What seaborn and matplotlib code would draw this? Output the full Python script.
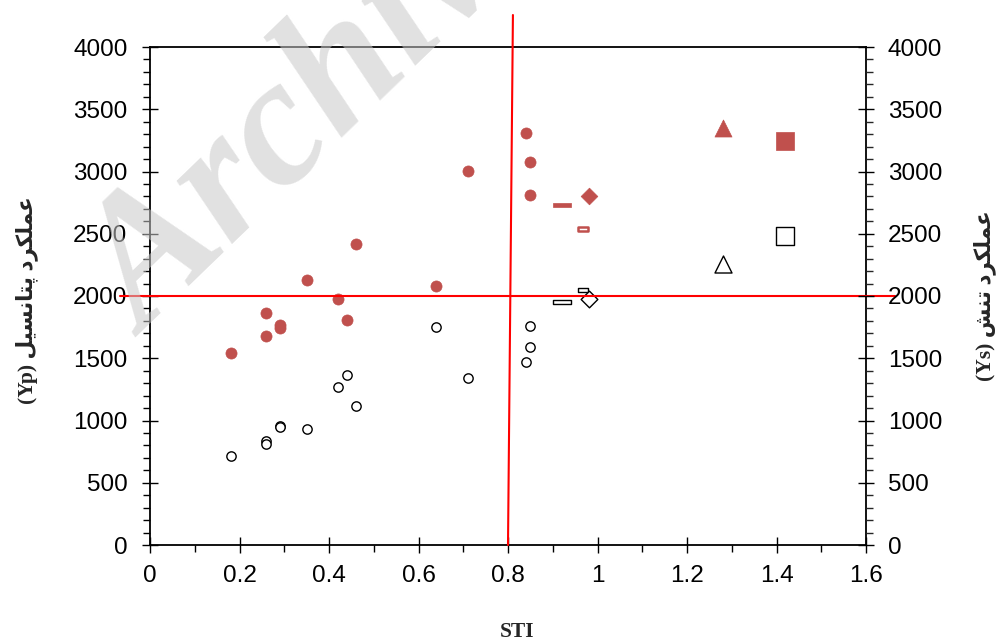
import numpy as np
import pandas as pd
import seaborn as sns
import matplotlib.pyplot as plt
from matplotlib.path import Path
from matplotlib.ticker import MultipleLocator, FuncFormatter

# genotypes
sti = [0.18, 0.26, 0.26, 0.29, 0.29, 0.35, 0.42, 0.44, 0.46, 0.64, 0.71, 0.84, 0.85, 0.85]
yp = [1540, 1861, 1679, 1767, 1743, 2128, 1973, 1807, 2418, 2080, 3007, 3312, 3074, 2811]
ys = [715, 838, 811, 955, 948, 929, 1269, 1363, 1119, 1754, 1339, 1467, 1762, 1588]

# check cultivars (own markers)
check_sti = [0.92, 0.968, 0.98, 1.28, 1.42]
check_yp = [2734, 2538, 2806, 3346, 3248]
check_ys = [1949, 2048, 1973, 2257, 2482]

sti_cut = 0.8
y_cut = 2000

xlabel = "STI"
# Persian labels (presentation forms, visual order)
ylabel_left = "(Yp) \uFEDE\uFBFF\uFEB4\uFEE7\uFE8E\uFE98\uFB58 \uFEA9\uFEAE\uFB91\uFEE0\uFEE4\uFECB"
ylabel_right = "(Ys) \uFEB6\uFEE8\uFE97 \uFEA9\uFEAE\uFB91\uFEE0\uFEE4\uFECB"

red = "#C0504D"

sns.set_style("white")
plt.rcParams["font.family"] = ["Liberation Sans", "DejaVu Sans"]

wide_bar = Path([(-1, -0.25), (1, -0.25), (1, 0.25), (-1, 0.25), (-1, -0.25)],
                [Path.MOVETO, Path.LINETO, Path.LINETO, Path.LINETO, Path.CLOSEPOLY])
small_bar = Path([(-1, -0.45), (1, -0.45), (1, 0.45), (-1, 0.45), (-1, -0.45)],
                 [Path.MOVETO, Path.LINETO, Path.LINETO, Path.LINETO, Path.CLOSEPOLY])
check_markers = [wide_bar, small_bar, "D", "^", "s"]
check_sizes = [160, 45, 72, 150, 160]

fig = plt.figure(figsize=(10.04, 6.44), dpi=100)
ax = fig.add_axes([150 / 1004, 1 - 545 / 644, 716 / 1004, 498 / 644])

df = pd.DataFrame({"STI": sti, "Yp": yp, "Ys": ys})
sns.scatterplot(data=df, x="STI", y="Yp", ax=ax, color=red, edgecolor=red,
                s=64, linewidth=0.5, zorder=3)
sns.scatterplot(data=df, x="STI", y="Ys", ax=ax, color="white", edgecolor="black",
                s=45, linewidth=1.0, zorder=3)

for i in range(len(check_sti)):
    m = check_markers[i]
    if i == 1:
        sns.scatterplot(x=[check_sti[i]], y=[check_yp[i]], ax=ax, marker=m, s=check_sizes[i],
                        color="white", edgecolor=red, linewidth=1.8, zorder=3)
    else:
        sns.scatterplot(x=[check_sti[i]], y=[check_yp[i]], ax=ax, marker=m, s=check_sizes[i],
                        color=red, edgecolor=red, linewidth=0.5, zorder=3)
    sns.scatterplot(x=[check_sti[i]], y=[check_ys[i]], ax=ax, marker=m, s=check_sizes[i],
                    color="white", edgecolor="black", linewidth=1.0, zorder=3)

# quadrant lines
ax.plot([sti_cut, sti_cut + 0.011], [0, 4257], color="red", lw=1.5, clip_on=False, zorder=4)
ax.plot([-0.067, 1.665], [y_cut, y_cut], color="red", lw=1.5, clip_on=False, zorder=4)

ax.set_xlim(0, 1.6)
ax.set_ylim(0, 4000)
ax.set_xlabel("")
ax.set_ylabel("")
ax.xaxis.set_major_locator(MultipleLocator(0.2))
ax.xaxis.set_minor_locator(MultipleLocator(0.1))
ax.yaxis.set_major_locator(MultipleLocator(500))
ax.yaxis.set_minor_locator(MultipleLocator(100))
ax.xaxis.set_major_formatter(FuncFormatter(lambda v, p: f"{v:g}"))

for s in ax.spines.values():
    s.set_color("black")
    s.set_linewidth(1.3)

ax.tick_params(axis="both", which="major", direction="inout", length=11.5, width=1,
               labelsize=17.5, colors="black")
ax.tick_params(axis="y", which="major", pad=10.5)
ax.tick_params(axis="x", which="major", pad=8.5)
ax.tick_params(axis="both", which="minor", direction="out", length=5, width=1, colors="black")
ax.tick_params(top=False, right=False, which="both")
ax.tick_params(axis="x", which="both", bottom=True)
ax.tick_params(axis="y", which="both", left=True)

ax2 = ax.twinx()
ax2.set_ylim(0, 4000)
ax2.yaxis.set_major_locator(MultipleLocator(500))
ax2.yaxis.set_minor_locator(MultipleLocator(100))
ax2.tick_params(axis="y", which="major", direction="inout", length=11.5, width=1,
                labelsize=17.5, colors="black", pad=10, right=True)
ax2.tick_params(axis="y", which="minor", direction="out", length=5, width=1, right=True)
for s in ax2.spines.values():
    s.set_visible(False)

lab_font = ["Liberation Serif", "DejaVu Sans"]
fig.text(517 / 1004, 1 - 632 / 644, xlabel, ha="center", va="center",
         fontsize=15.5, fontweight="bold", family=lab_font)
fig.text(27 / 1004, 1 - 300 / 644, ylabel_left, ha="center", va="center", rotation=90,
         fontsize=15.5, fontweight="bold", family=lab_font)
fig.text(985 / 1004, 1 - 296 / 644, ylabel_right, ha="center", va="center", rotation=90,
         fontsize=15.5, fontweight="bold", family=lab_font)

# watermark
fig.text(145 / 1004, 1 - 338 / 644, "Archive", rotation=44, rotation_mode="anchor",
         ha="left", va="baseline", fontsize=132, fontweight="bold", style="italic",
         family="Liberation Serif", color="#c8c8c8", alpha=0.55, zorder=10)

fig.savefig("out.png", dpi=100)
